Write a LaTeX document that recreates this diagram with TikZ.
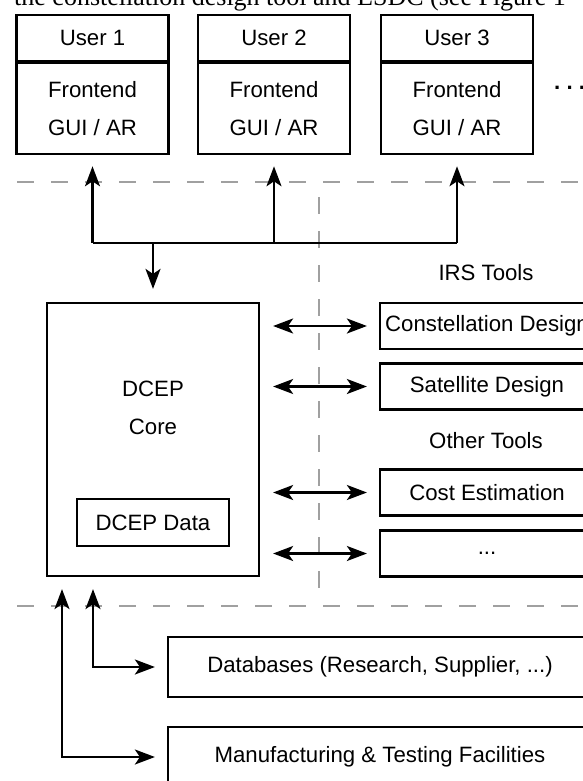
\documentclass[tikz,border=0pt]{standalone}
\usepackage{fontspec}
\setmainfont{Liberation Sans}
\newfontfamily\pageserif{Liberation Serif}
\usetikzlibrary{arrows.meta}

\begin{document}
\begin{tikzpicture}[x=1pt,y=-1pt,
    >={Stealth[length=20pt,width=15pt,inset=5pt]},
    txt/.style={inner sep=0pt, align=center, font=\fontsize{22.2pt}{38pt}\selectfont},
    box/.style={txt, draw, line width=2.2pt, minimum width=#1},
    box/.default=152,
    link/.style={line width=2.2pt},
    sep/.style={draw=sepgray, line width=2.5pt, dash pattern=on 17pt off 17pt}]
  \definecolor{sepgray}{RGB}{160, 160, 160}
  \useasboundingbox (0,0) rectangle (582,781);
  % cut-off line of the page above the figure
  \node[inner sep=0pt, anchor=base west, font=\pageserif\fontsize{26pt}{26pt}\selectfont] (pagetext) at (14,6) {the constellation design tool and ESDC (see Figure 1};
  % users
  \foreach \i/\x in {1/92.5, 2/274, 3/457} {
    \node[box, minimum height=46] (user\i) at (\x,38) {User \i};
    \node[box, minimum height=91, anchor=north] (fe\i) at (user\i.south) {Frontend\\GUI / AR};
  }
  \node[txt, anchor=base west, font=\fontsize{22.2pt}{38pt}\bfseries] (moreusers) at (554,90) {.\ .\ .};
  % separators
  \draw[sep] (17,182) -- (582,182);
  \draw[sep] (319,197) -- (319,590);
  \draw[sep] (17,606) -- (582,606);
  % core
  \node[box=212, minimum height=273] (core) at (153,439.5) {};
  \node[txt] (corename) at (153,407.5) {DCEP\\Core};
  \node[box, minimum height=47] (data) at (153,522.5) {DCEP Data};
  % bus to the users
  \coordinate (bus) at (0,243);
  \draw[link] (fe1.south |- bus) -- (fe3.south |- bus);
  \foreach \i in {1,2,3}
    \draw[link, ->, shorten >=11pt] (fe\i.south |- bus) -- (fe\i.south);
  \draw[link, ->, shorten >=13pt] (core.north |- bus) -- (core.north);
  % tools
  \node[txt] (irs) at (486,273) {IRS Tools};
  \node[txt] (other) at (486,441) {Other Tools};
  \node[box=214, minimum height=46] (etc) at (487,553.5) {...};
  \foreach \n/\y/\t in {cons/326/Constellation Design, sat/386.5/Satellite Design, cost/492.5/Cost Estimation}
    \node[box=214, minimum height=46] (\n) at (487,\y) {\t};
  \foreach \n in {cons, sat, cost, etc}
    \draw[link, <->, shorten <=13pt, shorten >=12pt] (core.east |- \n.west) -- (\n.west);
  % external resources
  \node[box=424, minimum height=60] (db) at (380,667) {Databases (Research, Supplier, ...)};
  \node[box=424, minimum height=60] (mf) at (380,757) {Manufacturing \& Testing Facilities};
  \coordinate (dbturn) at (93,667);
  \coordinate (mfturn) at (62,757);
  \draw[link, <->, shorten <=12pt, shorten >=12pt] (core.south -| dbturn) -- (dbturn) -- (db.west);
  \draw[link, <->, shorten <=12pt, shorten >=12pt] (core.south -| mfturn) -- (mfturn) -- (mf.west);
\end{tikzpicture}
\end{document}
